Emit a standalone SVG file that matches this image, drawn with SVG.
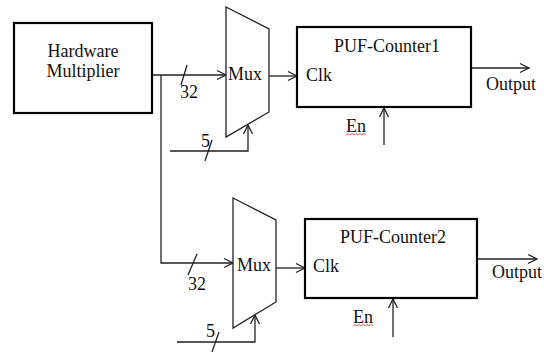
<svg xmlns="http://www.w3.org/2000/svg" width="544" height="352" viewBox="0 0 544 352">
<defs>
<style>
.box{fill:#fff;stroke:#000;stroke-width:2.2}
.mux{fill:#fff;stroke:#222;stroke-width:1.3}
.ln{fill:none;stroke:#222;stroke-width:1.3}
.t{font-family:'Liberation Serif','Times New Roman',serif;font-size:18px;fill:#111}
.sq{fill:none;stroke:#e03030;stroke-width:0.8}
</style>
<marker id="arr" markerWidth="12" markerHeight="12" refX="10" refY="6" orient="auto" markerUnits="userSpaceOnUse">
<polyline points="1,1.5 10,6 1,10.5" fill="none" stroke="#222" stroke-width="1.3"/>
</marker>
</defs>
<rect width="544" height="352" fill="#fff"/>
<g id="connectors">
<line class="ln" x1="152" y1="75" x2="226" y2="75" marker-end="url(#arr)"/>
<polyline class="ln" points="161,75 161,263 233,263" marker-end="url(#arr)"/>
<line class="ln" x1="187" y1="65" x2="181" y2="85"/>
<line class="ln" x1="197" y1="254" x2="188" y2="275"/>
<polyline class="ln" points="170,151 248,151 248,125" marker-end="url(#arr)"/>
<line class="ln" x1="212" y1="140" x2="205" y2="161"/>
<polyline class="ln" points="177,342 255,342 255,315" marker-end="url(#arr)"/>
<line class="ln" x1="219" y1="332" x2="212" y2="352"/>
<line class="ln" x1="269" y1="76" x2="297" y2="76" marker-end="url(#arr)"/>
<line class="ln" x1="276" y1="268" x2="305" y2="268" marker-end="url(#arr)"/>
<line class="ln" x1="471" y1="68" x2="529" y2="68" marker-end="url(#arr)"/>
<line class="ln" x1="477" y1="259" x2="537" y2="259" marker-end="url(#arr)"/>
<line class="ln" x1="384" y1="145" x2="384" y2="108" marker-end="url(#arr)"/>
<line class="ln" x1="393" y1="337" x2="393" y2="299" marker-end="url(#arr)"/>
</g>
<g id="hw">
<rect class="box" x="14" y="23" width="138" height="90"/>
<text class="t" x="83" y="57" text-anchor="middle" font-family="Liberation Serif, serif">Hardware</text>
<text class="t" x="83" y="77" text-anchor="middle" font-family="Liberation Serif, serif">Multiplier</text>
</g>
<g id="mux1">
<polygon class="mux" points="226,7 269,29 269,112 226,137"/>
<text class="t" x="228" y="80">Mux</text>
</g>
<g id="mux2">
<polygon class="mux" points="233,198 276,220 276,302 233,328"/>
<text class="t" x="237" y="271">Mux</text>
</g>
<g id="puf1">
<rect class="box" x="297" y="27" width="174" height="80"/>
<text class="t" x="387" y="52" text-anchor="middle">PUF-Counter1</text>
<text class="t" x="306" y="81">Clk</text>
</g>
<g id="puf2">
<rect class="box" x="305" y="219" width="172" height="79"/>
<text class="t" x="393" y="243" text-anchor="middle">PUF-Counter2</text>
<text class="t" x="313" y="272">Clk</text>
</g>
<g id="labels">
<text class="t" x="180" y="98">32</text>
<text class="t" x="188" y="290">32</text>
<text class="t" x="201" y="147">5</text>
<text class="t" x="206" y="337">5</text>
<text class="t" x="486" y="90">Output</text>
<text class="t" x="492" y="278">Output</text>
<text class="t" x="346" y="132">En</text>
<text class="t" x="353" y="323">En</text>
<path class="sq" d="M346,135 l2,-1.5 l2,1.5 l2,-1.5 l2,1.5 l2,-1.5 l2,1.5 l2,-1.5 l2,1.5 l2,-1.5 l2,1.5"/>
<path class="sq" d="M353,326 l2,-1.5 l2,1.5 l2,-1.5 l2,1.5 l2,-1.5 l2,1.5 l2,-1.5 l2,1.5 l2,-1.5 l2,1.5"/>
</g>
</svg>
